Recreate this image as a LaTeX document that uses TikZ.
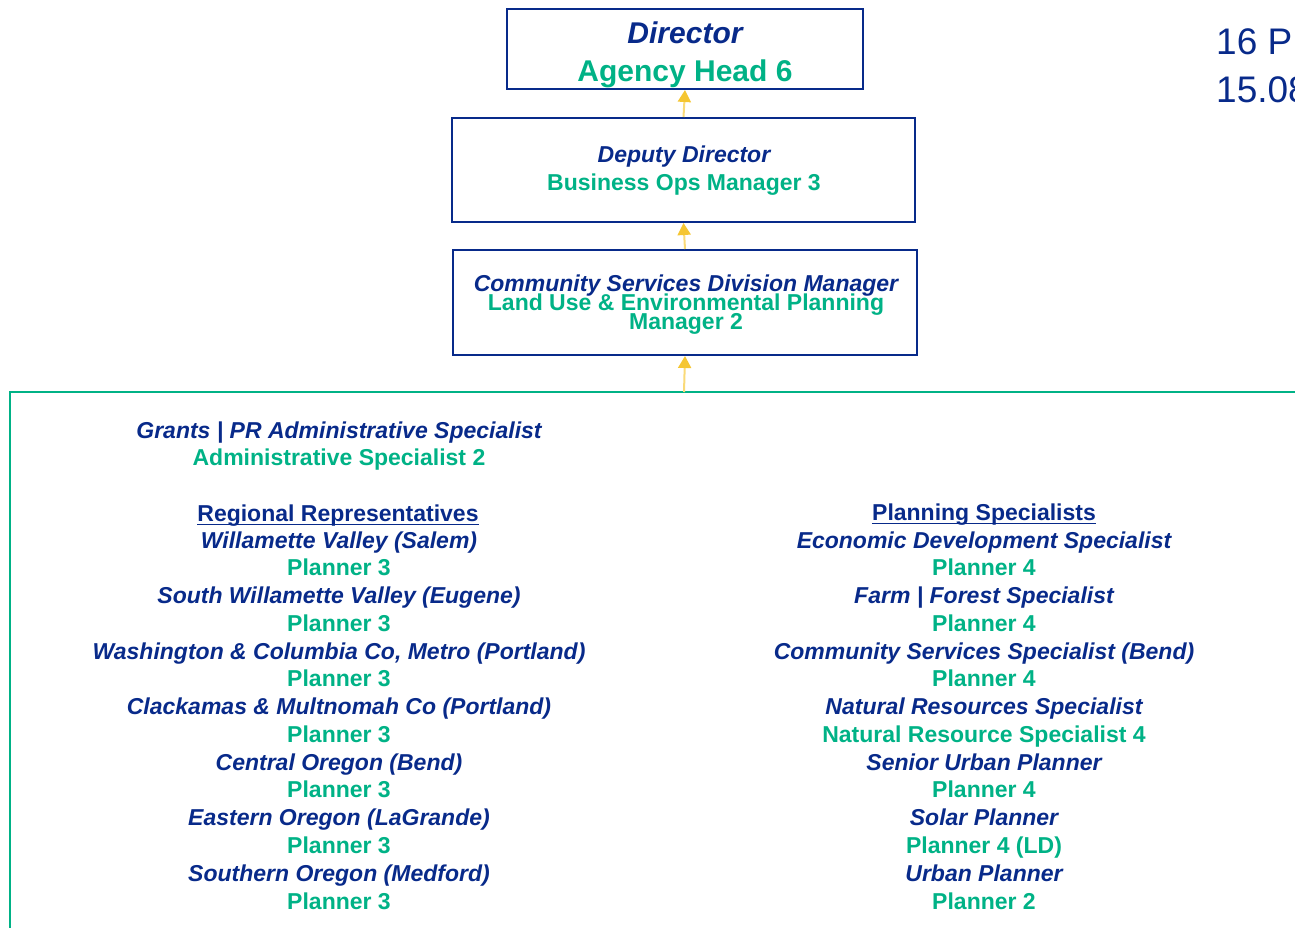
\documentclass[tikz,border=0pt]{standalone}
\usepackage{fontspec}
\setmainfont{Liberation Sans}
\usetikzlibrary{arrows.meta}
\definecolor{orgblue}{RGB}{8,42,138}
\definecolor{orggreen}{RGB}{0,178,134}
\definecolor{orgyellow}{RGB}{245,198,50}
\definecolor{orgpale}{RGB}{250,218,120}
\tikzset{
  box/.style={draw=orgblue, line width=2pt, fill=white, inner sep=0pt},
  title/.style={text=orgblue, font=\fontsize{23}{27}\selectfont\bfseries\itshape, inner sep=0pt, anchor=base},
  grade/.style={text=orggreen, font=\fontsize{23}{27}\selectfont\bfseries, inner sep=0pt, anchor=base},
  head/.style={text=orgblue, font=\fontsize{23}{27}\selectfont\bfseries, inner sep=0pt, anchor=base},
  count/.style={text=orgblue, font=\fontsize{37}{44}\selectfont, inner sep=0pt, anchor=base west},
  link/.style={draw=orgpale, line width=2pt, -{Triangle[width=13pt,length=12pt,color=orgyellow]}},
  rule/.style={draw=orgblue, line width=1.8pt},
}
\begin{document}
\begin{tikzpicture}[x=1pt, y=-1pt]
\useasboundingbox (0,0) rectangle (1295,928);
\clip (0,0) rectangle (1295,928);

% staff frame
\draw[orggreen, line width=1.5pt] (10,392) rectangle (1330,960);
\coordinate (frametop) at (684,392);

% management boxes
\node[box, minimum width=356pt, minimum height=80pt] (director) at (685,49) {};
\node[title, font=\fontsize{30}{36}\selectfont\bfseries\itshape] (dirt) at (685,44) {Director};
\node[grade, font=\fontsize{30}{36}\selectfont\bfseries] (dirg) at (685,82) {Agency Head 6};

\node[box, minimum width=463pt, minimum height=104pt] (deputy) at (683.5,170) {};
\node[title] (dept) at (684,163) {Deputy Director};
\node[grade] (depg) at (684,191) {Business Ops Manager 3};

\node[box, minimum width=464pt, minimum height=105pt] (csd) at (685,302.5) {};
\node[title] (csdt) at (686,291) {Community Services Division Manager};
\node[grade] (csdg1) at (686,310) {Land Use \& Environmental Planning};
\node[grade] (csdg2) at (686,329) {Manager 2};

% reporting lines
\draw[link] (frametop) -- (csd.south);
\draw[link] (csd.north) -- (deputy.south);
\draw[link] (deputy.north) -- (director.south);

% position count
\node[count] (cnt1) at (1216,55) {16 P};
\node[count] (cnt2) at (1216,103) {15.08};

% left column
\node[title] (gt) at (339,438) {Grants | PR Administrative Specialist};
\node[grade] (gg) at (339,465) {Administrative Specialist 2};
\node[head] (rr) at (338,521) {Regional Representatives};
\draw[rule] ([yshift=-3.5pt]rr.base west) -- ([yshift=-3.5pt]rr.base east);
\foreach \t/\g [count=\i from 0] in {
  {Willamette Valley (Salem)}/{Planner 3},
  {South Willamette Valley (Eugene)}/{Planner 3},
  {Washington \& Columbia Co, Metro (Portland)}/{Planner 3},
  {Clackamas \& Multnomah Co (Portland)}/{Planner 3},
  {Central Oregon (Bend)}/{Planner 3},
  {Eastern Oregon (LaGrande)}/{Planner 3},
  {Southern Oregon (Medford)}/{Planner 3}} {
  \node[title] (lt\i) at (339,{548+55.54*\i}) {\t};
  \node[grade] (lg\i) at (339,{575.77+55.54*\i}) {\g};
}

% right column
\node[head] (ps) at (984,520) {Planning Specialists};
\draw[rule] ([yshift=-3.5pt]ps.base west) -- ([yshift=-3.5pt]ps.base east);
\foreach \t/\g [count=\i from 0] in {
  {Economic Development Specialist}/{Planner 4},
  {Farm | Forest Specialist}/{Planner 4},
  {Community Services Specialist (Bend)}/{Planner 4},
  {Natural Resources Specialist}/{Natural Resource Specialist 4},
  {Senior Urban Planner}/{Planner 4},
  {Solar Planner}/{Planner 4 (LD)},
  {Urban Planner}/{Planner 2}} {
  \node[title] (rt\i) at (984,{548+55.54*\i}) {\t};
  \node[grade] (rg\i) at (984,{575.77+55.54*\i}) {\g};
}
\end{tikzpicture}
\end{document}
